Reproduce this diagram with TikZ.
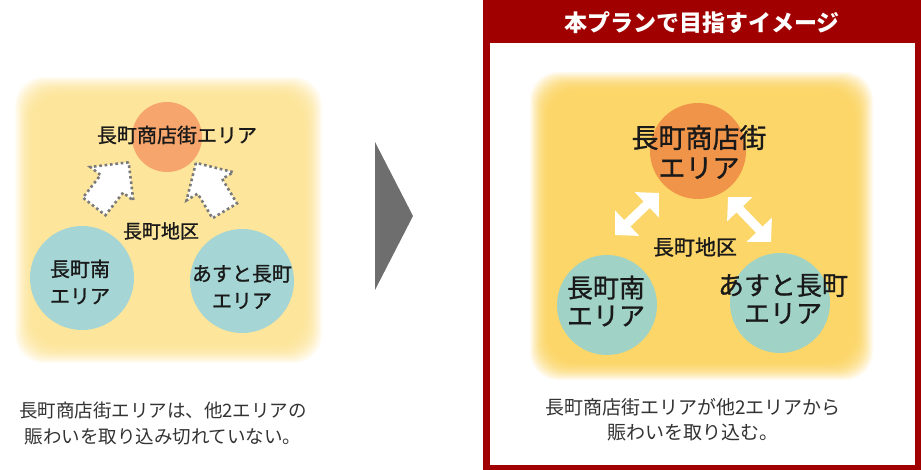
\documentclass[tikz,border=0pt]{standalone}
\usepackage{fontspec}
\newfontfamily\jpfont{Noto Sans CJK JP}
\newfontfamily\jpheavy[FakeBold=1]{Noto Sans CJK JP}
\usepackage{tikz}
\usetikzlibrary{positioning, arrows.meta, shapes.arrows}

\definecolor{paleyellow}{RGB}{253,229,155}
\definecolor{planyellow}{RGB}{252,214,104}
\definecolor{shoporange}{RGB}{246,166,108}
\definecolor{planorange}{RGB}{240,148,74}
\definecolor{paleteal}{RGB}{165,213,212}
\definecolor{planteal}{RGB}{160,211,198}
\definecolor{planred}{RGB}{160,0,0}
\definecolor{arrowgray}{RGB}{110,110,110}
\definecolor{dotgray}{RGB}{122,122,122}
\definecolor{captiongray}{RGB}{51,51,51}

\tikzset{
  area/.style={circle, inner sep=0pt, minimum size=#1},
  areatext/.style 2 args={font=\jpheavy\fontsize{#1}{#2}\selectfont, align=center, text=black!90},
  caption/.style={font=\jpfont\fontsize{18.5}{26}\selectfont, align=center, text=captiongray},
  hintarrow/.style={single arrow, draw=dotgray, fill=white, line width=2.6pt,
    dash pattern=on 2.6pt off 2.8pt, inner sep=13pt, minimum height=56pt,
    single arrow head extend=13pt},
  linkarrow/.style={white, line width=9pt,
    {Triangle[width=34pt,length=17pt]}-{Triangle[width=34pt,length=17pt]}}
}

% soft edged rounded box: x1, y1, x2, y2, colour
\newcommand{\softbox}[5]{%
  \foreach \g in {20,...,1}{
    \pgfmathtruncatemacro\tintlevel{100*(1-(\g/21)^2)}
    \fill[#5!\tintlevel!white, rounded corners=28pt]
      ({#1-\g},{#2-\g}) rectangle ({#3+\g},{#4+\g});
  }
  \fill[#5, rounded corners=28pt] (#1,#2) rectangle (#3,#4);
}

\begin{document}
\begin{tikzpicture}[x=1pt, y=-1pt]
    \useasboundingbox (0,0) rectangle (921,470);

    % Present situation
    \softbox{35}{97}{302}{343}{paleyellow}
    \node[area=70pt, fill=shoporange] (shopL) at (167,137) {};
    \node[area=104pt, fill=paleteal] (southL) at (82,278) {};
    \node[area=104pt, fill=paleteal] (asutoL) at (242,281) {};

    \node[areatext={20}{27}] (shopLtext) at (177,135) {長町商店街エリア};
    \node[areatext={20}{27}] (southLtext) at (80,282) {長町南\\エリア};
    \node[areatext={20}{27}] (asutoLtext) at (242,287) {あすと長町\\エリア};
    \node[areatext={19}{24}] (districtL) at (161,231) {長町地区};

    % Dotted arrows towards the shopping street
    \node[hintarrow, rotate=52] (hintL) at (107,190) {};
    \node[hintarrow, rotate=121] (hintR) at (214,193) {};

    \node[caption] (captionL) at (163,424) {長町商店街エリアは、他2エリアの\\賑わいを取り込み切れていない。};

    % Transition arrow
    \fill[arrowgray] (375,142) -- (413,216) -- (375,290) -- cycle;

    % Plan frame
    \fill[planred] (483,0) rectangle (921,470);
    \fill[white] (490,43) rectangle (915,465);
    \node[font=\jpfont\bfseries\fontsize{23}{23}\selectfont, text=white] (header) at (702,23) {本プランで目指すイメージ};

    % Plan picture
    \softbox{550}{92}{853}{360}{planyellow}
    \node[area=96pt, fill=planorange] (shopR) at (698,151) {};
    \node[area=100pt, fill=planteal] (southR) at (607,305) {};
    \node[area=100pt, fill=planteal] (asutoR) at (780,303) {};

    \node[areatext={27}{30}] (shopRtext) at (699,152) {長町商店街\\エリア};
    \node[areatext={26}{28}] (southRtext) at (606,301) {長町南\\エリア};
    \node[areatext={26}{28}] (asutoRtext) at (783,299) {あすと長町\\エリア};
    \node[areatext={21}{24}] (districtR) at (695,247) {長町地区};

    % Two way links
    \coordinate (linkLa) at (615,235);
    \coordinate (linkLb) at (659,193);
    \coordinate (linkRa) at (728,197);
    \coordinate (linkRb) at (771,242);
    \draw[linkarrow] (linkLa) -- (linkLb);
    \draw[linkarrow] (linkRa) -- (linkRb);

    \node[caption, font=\jpfont\fontsize{19}{25}\selectfont] (captionR) at (693,420) {長町商店街エリアが他2エリアから\\賑わいを取り込む。};
\end{tikzpicture}
\end{document}
